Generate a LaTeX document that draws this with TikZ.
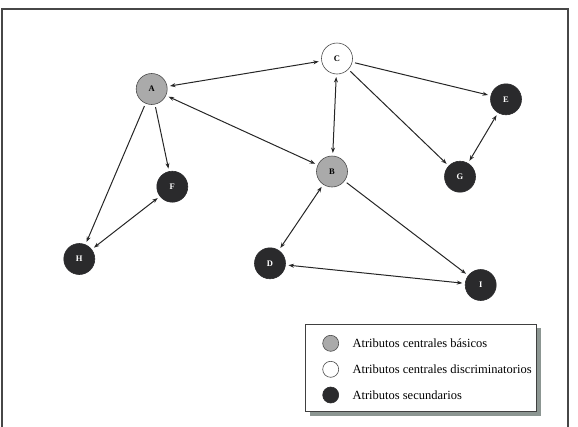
\documentclass[tikz,border=0pt]{standalone}
\usepackage{fontspec}
\setmainfont{Liberation Serif}
\usetikzlibrary{arrows.meta}
\definecolor{shadowc}{RGB}{140,150,146}
\definecolor{darkn}{RGB}{42,42,44}
\definecolor{grayn}{RGB}{170,170,170}
\begin{document}
\begin{tikzpicture}[x=1pt,y=-1pt,
  attr/.style={circle, minimum size=31pt, inner sep=0pt, outer sep=3pt, draw=black!70, line width=0.6pt, font=\fontsize{8.5}{9}\selectfont\bfseries},
  basic/.style={attr, fill=grayn},
  disc/.style={attr, fill=white},
  sec/.style={attr, fill=darkn, draw=darkn, text=white},
  tip/.tip={Stealth[length=5.5pt,width=4pt]},
  arr/.style={-tip, line width=1pt, black!85},
  darr/.style={tip-tip, line width=1pt, black!85},
  legdot/.style={circle, minimum size=16pt, inner sep=0pt, draw=black!70, line width=0.6pt},
  legtext/.style={anchor=west, font=\fontsize{12.5}{13}\selectfont, inner sep=0pt}
]
\useasboundingbox (0,0) rectangle (578,426);
\begin{scope}
\clip (0,0) rectangle (578,426);
\draw[line width=2.2pt, black!72] (2,440) -- (2,9) -- (568,9) -- (568,440);
\end{scope}

% nodes
\node[basic] (A) at (151.7,89) {A};
\node[disc]  (C) at (337,58.5) {C};
\node[basic] (B) at (332,171.5) {B};
\node[sec]   (E) at (506,99.3) {E};
\node[sec]   (G) at (460,176.7) {G};
\node[sec]   (F) at (172.3,186.7) {F};
\node[sec]   (H) at (79.3,259) {H};
\node[sec]   (D) at (270,263.3) {D};
\node[sec]   (I) at (480.7,285) {I};

% connectors
\draw[darr] (A) -- (C);
\draw[darr] (A) -- (B);
\draw[darr] (C) -- (B);
\draw[arr]  (C) -- (E);
\draw[arr]  (C) -- (G);
\draw[darr] (E) -- (G);
\draw[arr]  (A) -- (F);
\draw[arr]  (A) -- (H);
\draw[darr] (F) -- (H);
\draw[darr] (B) -- (D);
\draw[arr]  (B) -- (I);
\draw[darr] (D) -- (I);

% legend
\fill[shadowc] (309.5,328) rectangle (541,416);
\node[draw=black!75, fill=white, line width=0.8pt, minimum width=231pt, minimum height=87.5pt, anchor=north west, inner sep=0pt] (leg) at (305,323.5) {};
\node[legdot, fill=grayn] (l1) at (330.7,343.3) {};
\node[legdot, fill=white] (l2) at (330.7,369.3) {};
\node[legdot, fill=darkn, draw=darkn] (l3) at (330.7,395) {};
\node[legtext] (t1) at (352.3,343.3) {Atributos centrales básicos};
\node[legtext] (t2) at (352.3,369.3) {Atributos centrales discriminatorios};
\node[legtext] (t3) at (352.3,395) {Atributos secundarios};
\end{tikzpicture}
\end{document}
